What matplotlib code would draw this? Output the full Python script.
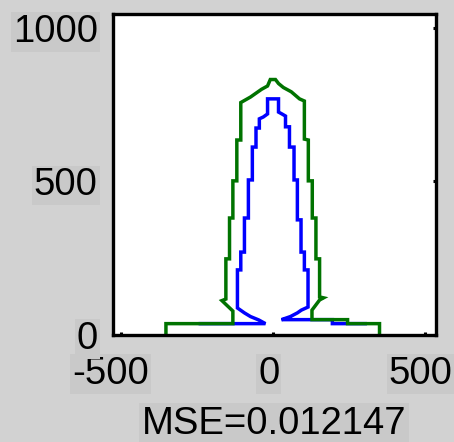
import matplotlib
matplotlib.use("Agg")
import matplotlib.pyplot as plt
from matplotlib.transforms import ScaledTranslation

plt.rcParams["font.family"] = ["Liberation Sans", "DejaVu Sans"]
plt.rcParams["axes.unicode_minus"] = False

# outline of the wide (green) curve, vertices in data units
green_x = [-351, -351, -131, -131, -167, -154, -154, -142, -142, -131, -131,
           -118, -118, -105, -105, -73, -37, -17, -8, 9, 19, 35, 61, 88, 104,
           104, 117, 117, 130, 130, 142, 142, 154, 154, 167, 154, 129, 129,
           246, 246, 351, 351]
green_y = [0, 37, 37, 78, 112, 117, 248, 248, 381, 381, 502,
           502, 635, 635, 757, 775, 800, 811, 832, 832, 819, 806, 792, 769, 762,
           638, 635, 502, 502, 381, 381, 248, 248, 124, 121, 114, 81, 50,
           50, 37, 37, 0]

# outline of the narrow (blue) curve
blue_x = [-238, -24, -46, -73, -93, -116, -116, -105, -105, -93, -93, -80,
          -80, -67, -67, -55, -55, -44, -44, -31, -17, -17, 19, 19, 30, 42,
          42, 55, 55, 70, 70, 81, 81, 93, 93, 104, 104, 116, 116, 94, 81, 58,
          29, 196, 196, 304]
blue_y = [37, 37, 49, 60, 72, 88, 212, 212, 270, 270, 381, 381,
          505, 505, 612, 612, 674, 674, 704, 710, 720, 769, 769, 726, 720, 713,
          678, 678, 612, 612, 505, 505, 375, 375, 270, 270, 212, 212, 91, 81, 72, 60,
          50, 50, 37, 37]

x_ticks = [-500, 0, 500]
y_ticks = [0, 500, 1000]
mse = 0.012147

BG = "#d2d2d2"
BOX = "#c9c9c9"

fig = plt.figure(figsize=(4.54, 4.42), dpi=100, facecolor=BG)
ax = fig.add_axes([113 / 454, 107 / 442, 322.5 / 454, 321.5 / 442])
ax.set_facecolor("white")

ax.plot(blue_x, blue_y, color="#0000ff", linewidth=2.5, solid_joinstyle="miter")
ax.plot(green_x, green_y, color="#007300", linewidth=2.5, solid_joinstyle="miter")

ax.set_xlim(-525, 535)
ax.set_ylim(0, 1047)
ax.set_xticks(x_ticks)
ax.set_yticks(y_ticks)
ax.set_xticklabels([str(t) for t in x_ticks])
ax.set_yticklabels([str(t) for t in y_ticks])

for s in ax.spines.values():
    s.set_linewidth(2.4)
    s.set_color("black")

ax.tick_params(axis="x", direction="in", length=2.5, width=2.2, pad=15,
               labelsize=27.5, top=False)
ax.tick_params(axis="y", direction="in", length=2.5, width=2.2, pad=11,
               labelsize=27.5, left=False, right=True)

# labels in the source sit a little left of their ticks
for lab, dx in zip(ax.get_xticklabels(), [-10, -4, -4]):
    shift = ScaledTranslation(dx / 100, 0, fig.dpi_scale_trans)
    lab.set_transform(lab.get_transform() + shift)
    lab.set_bbox(dict(facecolor=BOX, edgecolor="none", pad=1.5))
for lab in ax.get_yticklabels():
    lab.set_bbox(dict(facecolor=BOX, edgecolor="none", pad=1.5))

ax.set_xlabel(f"MSE={mse:.6f}", fontsize=27.5, labelpad=10,
              bbox=dict(facecolor=BOX, edgecolor="none", pad=2))

fig.savefig("out.png", dpi=100, facecolor=BG)
